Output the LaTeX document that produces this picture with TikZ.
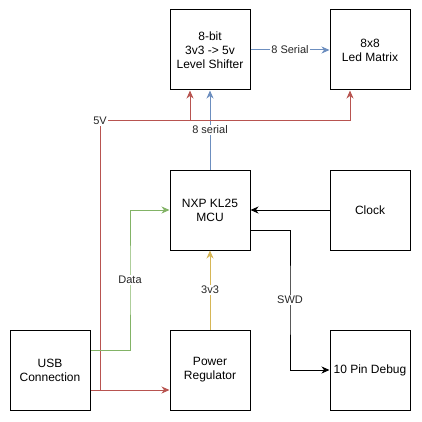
\documentclass[tikz,border=0pt]{standalone}
\usepackage{fontspec}
\setmainfont{Liberation Sans}
\usetikzlibrary{arrows.meta,calc}
\definecolor{cred}{HTML}{B85450}
\definecolor{cblue}{HTML}{6C8EBF}
\definecolor{cgreen}{HTML}{82B366}
\definecolor{cyellow}{HTML}{D6B656}
\begin{document}
\begin{tikzpicture}[x=1pt,y=-1pt,
  box/.style={draw=black, line width=1pt, minimum width=80pt, minimum height=80pt,
    align=center, inner sep=0pt, font=\fontsize{12}{14}\selectfont},
  lbl/.style={fill=white, inner sep=1pt, font=\fontsize{11}{13}\selectfont, text=black!85},
  conn/.style={line width=1pt, -{Stealth[length=8pt,width=7pt,inset=2.5pt]}},
  plain/.style={line width=1pt}]
\useasboundingbox (0,0) rectangle (422,422);
\node[box] (ls)  at (210,50)  {8-bit\\3v3 -> 5v\\Level Shifter};
\node[box] (led) at (370,50)  {8x8\\Led Matrix};
\node[box] (mcu) at (210,210) {NXP KL25\\MCU};
\node[box] (clk) at (370,210) {Clock};
\node[box] (usb) at (50,370)  {USB\\Connection};
\node[box] (pwr) at (210,370) {Power\\Regulator};
\node[box] (dbg) at (370,370) {10 Pin Debug};
\coordinate (usbP) at ([yshift=-20pt]usb.east);
\coordinate (usbD) at ([yshift=20pt]usb.east);
\coordinate (mcuS) at ([yshift=-20pt]mcu.east);
\coordinate (lsS)  at ([xshift=-20pt]ls.south);
\coordinate (ledS) at ([xshift=-20pt]led.south);
\coordinate (c5v)  at (100,121);
% blue
\draw[conn, cblue] (ls.east) -- node[lbl]{8 Serial} (led.west);
\draw[conn, cblue] (mcu.north) -- node[lbl]{8 serial} (ls.south);
% red 5V
\draw[conn, cred] (usbP) -- (usbP -| pwr.west);
\draw[conn, cred] (usbP) -| (c5v) -| (ledS);
\draw[conn, cred] (c5v -| lsS) -- (lsS);
\node[lbl] (l5v) at (c5v) {5V};
% green data
\draw[conn, cgreen] (usbD) -| ($(usbD)!0.5!(mcu.west)$) node[lbl]{Data} |- (mcu.west);
% yellow
\draw[conn, cyellow] (pwr.north) -- node[lbl]{3v3} (mcu.south);
% clock
\draw[conn, black] (clk.west) -- (mcu.east);
% SWD
\draw[conn, black] (mcuS) -| ($(mcuS)!0.5!(dbg.west)$) node[lbl]{SWD} |- (dbg.west);
\end{tikzpicture}
\end{document}
